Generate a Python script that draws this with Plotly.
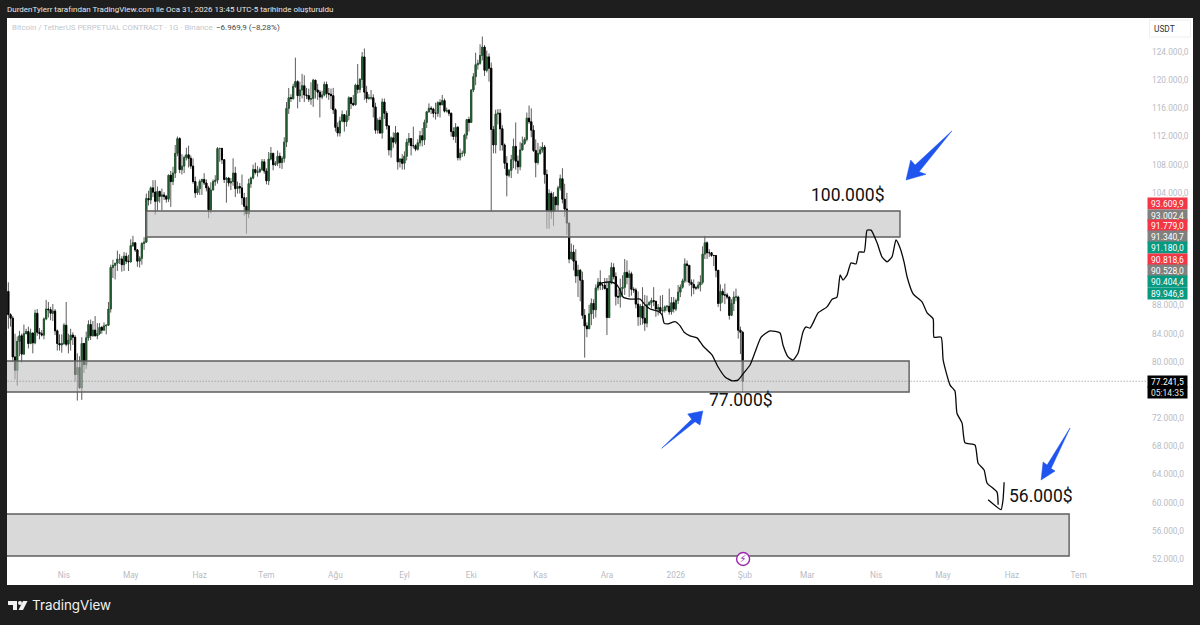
import pandas as pd
import plotly.graph_objects as go

# Daily BTC/USDT perpetual candles (thousands of USDT), 2025-03-07 .. 2026-01-31
first_date = "2025-03-07"
first_open = 90.0
mar_c = [86.7,86.2,80.7,78.8,82.9,83.7,81.1,84.0,84.3,82.6,84.1,82.7,86.9,84.2,84.0,83.8,86.1,87.5,87.4,86.9,87.2,84.4,82.6,82.4,82.6]
mar_h = [91.3,86.9,86.5,84.0,83.6,84.4,84.0,85.3,84.7,85.0,84.7,84.1,87.4,87.5,84.8,84.5,86.3,88.8,88.5,87.8,88.2,87.5,84.6,83.9,83.9]
mar_l = [84.7,85.0,80.0,77.5,76.6,80.8,79.9,81.0,83.9,81.9,82.5,81.2,82.5,83.7,83.2,83.6,83.2,85.9,86.3,85.9,85.8,83.8,81.6,81.6,81.3]
apr_c = [85.2,82.5,83.1,83.8,83.5,78.2,79.2,76.3,82.6,79.6,83.4,85.3,83.7,84.5,83.7,84.0,84.9,84.5,85.1,85.2,87.5,93.4,93.7,94.0,94.6,94.6,93.8,95.0,94.3,94.2]
apr_h = [85.5,88.5,84.0,84.7,84.2,83.8,81.2,80.8,83.5,82.7,84.3,85.9,86.0,85.8,86.5,85.5,85.5,85.1,85.6,85.3,88.5,93.8,94.5,94.0,95.8,95.3,95.0,95.6,95.5,95.2]
apr_l = [82.4,82.2,81.2,81.6,82.4,77.2,74.5,76.2,74.6,78.4,79.0,83.0,83.1,83.6,83.6,83.2,83.8,84.0,84.9,83.9,85.1,87.0,91.9,91.7,92.9,93.9,92.8,92.9,93.9,92.9]
may_c = [96.5,96.9,95.9,94.3,94.7,96.8,97.0,103.2,103.0,104.7,104.1,102.8,104.2,103.5,103.7,103.5,103.1,106.5,105.6,106.8,109.6,111.7,107.3,107.8,109.0,109.4,108.9,107.8,105.6,104.0,104.6]
may_h = [97.4,97.9,96.9,96.0,95.0,97.0,97.7,103.9,104.3,104.9,105.8,105.8,104.9,104.3,104.6,104.1,103.7,106.6,107.1,107.7,110.8,112.0,111.9,109.5,109.3,110.4,110.7,109.3,108.9,106.3,105.0]
may_l = [94.1,96.3,95.6,93.5,93.4,93.8,95.9,96.9,102.2,102.4,103.4,100.9,101.5,102.6,101.5,103.0,102.6,102.7,102.0,105.1,106.1,109.2,106.8,106.6,106.8,108.6,107.6,107.4,105.3,103.3,103.7]
jun_c = [105.6,105.9,105.4,104.7,101.6,104.4,105.6,105.8,110.3,110.3,108.7,105.9,106.1,105.4,105.6,106.8,104.6,104.9,104.7,103.3,102.1,101.0,105.3,106.1,107.3,106.9,107.0,107.3,108.4,107.1]
jun_h = [105.9,106.0,106.8,105.9,105.0,105.5,105.9,106.5,110.5,110.4,110.4,108.8,106.2,106.2,106.1,108.9,107.7,105.6,105.4,106.6,104.0,103.4,106.0,106.3,108.0,108.3,107.8,107.6,108.8,108.8]
jun_l = [103.7,103.7,105.1,104.2,100.4,101.1,104.6,105.0,105.3,108.4,108.1,105.4,102.6,104.9,104.4,105.0,103.4,103.9,103.9,102.3,100.8,98.2,100.4,104.7,105.9,106.6,106.3,106.8,107.1,106.7]
jul_c = [105.7,108.8,109.6,108.0,108.2,109.2,108.3,108.9,111.2,116.0,117.5,117.4,119.1,119.8,117.8,118.6,119.2,117.9,117.8,117.3,117.4,120.0,118.6,118.3,117.6,117.9,119.4,118.1,118.0,117.8,115.8]
jul_h = [107.5,109.8,110.5,109.7,108.5,110.0,109.7,109.2,111.9,116.9,118.9,118.0,119.5,123.2,120.0,119.8,120.9,120.7,118.9,118.8,119.7,120.2,120.0,119.5,118.6,118.5,119.8,119.8,118.9,118.8,118.9]
jul_l = [105.2,105.1,108.6,107.2,107.8,107.8,107.5,107.4,108.3,110.5,115.2,116.9,117.2,118.9,116.0,116.9,117.4,116.9,117.3,116.9,116.5,116.2,117.4,117.2,114.7,117.3,117.7,117.5,117.2,115.9,115.2]
aug_c = [113.3,112.5,114.2,115.1,114.1,115.0,117.5,116.7,116.5,119.3,118.7,120.1,123.3,118.3,117.4,117.5,117.5,116.2,112.9,114.3,112.5,116.9,115.3,113.5,110.1,111.8,111.2,112.5,108.4,108.8,108.2]
aug_h = [116.0,114.0,114.8,115.7,115.1,115.7,117.7,117.6,117.9,119.5,122.3,120.3,124.0,124.5,119.2,118.0,118.6,118.0,116.8,114.6,114.8,117.4,117.4,115.6,113.6,112.0,112.6,113.5,112.6,108.9,109.5]
aug_l = [112.7,112.0,112.0,114.0,112.7,113.4,114.3,115.9,116.3,116.4,118.1,118.2,118.9,117.2,116.8,117.2,117.2,114.7,112.4,112.4,112.4,111.7,114.5,113.0,109.3,109.0,110.4,110.9,107.3,107.6,107.3]
sep_c = [109.2,111.2,111.7,110.7,110.7,110.2,111.1,112.1,111.5,114.0,115.5,116.0,115.9,115.3,115.3,116.8,116.5,117.1,115.6,115.7,115.3,112.7,112.0,113.3,109.0,109.6,109.6,112.2,114.4,114.0]
sep_h = [109.9,111.7,112.5,111.8,113.4,110.9,111.6,112.8,113.2,114.4,115.6,116.7,116.3,116.1,116.8,117.0,117.3,117.9,117.4,116.1,115.9,115.4,113.3,113.9,113.5,110.3,110.0,112.4,114.5,114.8]
sep_l = [107.3,108.6,110.7,109.3,110.3,109.9,110.0,110.6,110.6,110.8,113.2,115.4,115.2,114.7,114.4,114.8,114.7,116.7,115.4,115.4,114.9,112.0,111.5,111.1,108.6,108.6,109.1,109.2,111.6,112.7]
oct_c = [118.6,120.5,122.2,122.4,123.5,124.7,121.4,123.3,121.7,113.0,110.8,115.2,115.3,113.1,110.8,108.2,106.5,107.2,108.7,110.6,108.5,107.7,110.1,111.0,111.6,114.6,114.1,112.9,110.0,108.3,109.6]
oct_h = [118.7,121.0,123.9,122.9,125.1,126.2,125.0,124.2,123.8,122.5,113.5,115.8,115.9,115.9,113.6,111.0,109.2,107.4,109.4,111.7,114.0,109.3,111.2,112.0,111.9,115.4,116.4,116.0,113.6,111.6,111.1]
oct_l = [114.0,118.3,119.3,121.5,122.2,122.8,120.6,121.1,119.8,101.4,109.6,109.6,113.7,110.0,110.0,107.4,103.5,106.2,106.1,107.5,107.3,106.7,107.2,110.0,110.8,111.3,113.8,111.9,109.8,106.2,108.0]
nov_c = [110.1,110.5,106.6,101.5,103.9,101.3,103.4,102.3,104.7,106.0,103.1,101.7,99.7,94.6,95.6,94.3,92.2,93.0,91.6,86.6,85.1,84.7,86.8,88.3,87.4,90.5,91.3,90.9,90.9,90.4]
nov_h = [110.6,111.2,110.8,107.3,104.5,104.2,104.1,103.5,105.0,106.6,107.5,105.3,104.0,99.8,96.8,96.6,96.0,93.8,93.2,92.8,87.5,85.6,88.1,89.0,88.9,91.0,91.9,93.0,91.1,91.9]
nov_l = [109.4,109.7,105.3,98.9,98.9,100.3,99.3,101.4,101.5,104.3,102.5,100.6,98.0,94.0,94.6,93.0,91.2,89.2,88.6,86.1,80.6,83.5,84.7,85.2,86.1,86.3,90.1,90.2,90.2,90.3]
dec_c = [86.3,91.3,93.4,92.1,89.3,89.2,90.4,90.6,92.7,92.0,92.5,90.3,90.2,88.2,86.4,87.9,86.2,85.5,88.1,88.4,88.7,88.6,87.5,87.7,87.2,87.3,87.8,87.9,87.1,88.4,87.5]
dec_h = [91.9,92.3,94.1,94.0,92.7,90.3,91.8,92.3,94.6,94.4,93.0,92.8,90.6,90.5,90.0,88.2,90.6,89.5,89.4,88.6,89.1,90.6,88.0,88.2,89.4,89.5,88.0,88.0,90.4,89.2,89.2]
dec_l = [83.8,86.2,91.0,91.7,88.0,88.2,87.7,89.5,89.5,91.0,89.2,89.4,89.8,87.6,85.1,85.2,85.3,84.4,84.9,88.0,87.6,87.9,86.4,86.6,86.9,86.4,87.0,87.2,86.7,86.7,87.0]
jan_c = [88.7,89.9,90.6,91.5,93.9,93.7,91.3,91.0,90.5,90.5,90.9,91.3,95.3,96.9,95.5,95.5,95.1,95.1,93.0,88.3,90.0,89.5,89.5,89.2,86.6,88.3,89.2,89.2,84.5,84.2,77.2415]
jan_h = [89.0,90.9,91.0,91.8,94.7,94.4,93.5,91.7,91.7,90.8,91.4,92.3,96.4,97.9,97.1,96.0,95.6,95.2,93.5,93.0,91.0,90.4,91.1,89.8,89.3,88.9,90.0,90.4,89.4,85.0,84.4]
jan_l = [87.2,88.2,89.2,90.4,91.2,91.3,90.8,89.3,89.6,90.2,90.3,90.0,91.0,94.6,94.6,94.9,94.9,93.6,92.0,87.8,87.2,88.4,88.2,88.9,86.0,86.5,87.2,88.6,83.3,81.1,75.7]

# Hand-drawn projection: days since 2025-04-01 and price (thousands)
curve_day = [239.6,241.8,245.4,248.1,249.9,251.2,254.4,258.9,261.1,263.4,267.0,268.8,269.7,271.5,274.6,276.9,278.7,281.3,284.5,287.2,291.2,293.9,297.1,300.2,302.9,305.2,308.3,310.6,313.3,317.3,321.8,323.1,325.4,327.6,329.9,332.1,333.5,335.3,338.9,342.9,345.2,347.4,348.8,350.1,351.9,353.7,355.9,357.3,359.6,360.9,362.7,365.4,367.6,369.9,372.1,373.9,375.7,377.5,378.9,381.6,385.6,387.9,390.6,391.0,394.2,395.1,398.2,400.4,401.3,403.6,404.9,409.4,410.8,413.5,414.8,419.3,419.8]
curve_price = [90.63,91.2,91.34,91.05,90.2,89.2,88.9,88.9,88.1,87.5,87.2,86.65,85.5,85.4,85.7,85.1,84.2,83.7,83.4,82.25,81.0,79.3,77.85,77.3,77.4,78.3,79.55,81.4,83.5,84.4,84.1,82.4,80.7,80.25,81.25,84.25,84.95,84.8,86.95,87.8,88.9,89.2,92.35,91.6,92.35,94.05,93.9,95.6,95.6,98.7,98.7,96.9,94.9,94.2,94.9,97.3,96.2,94.2,92.05,89.65,88.5,86.95,86.1,83.5,83.5,80.25,76.7,75.85,72.7,71.3,68.5,68.2,65.6,64.65,62.8,61.5,59.7]
hook_day = [415.3,421.1,422.0,422.5]
hook_price = [60.4,59.0,60.4,62.9]

# Zones: start day, end day, top price, bottom price
zone_start = [36.9,-30,-30]
zone_end = [375.7,379.8,451.7]
zone_top = [101.42,80.12,58.39]
zone_bottom = [97.73,75.72,52.42]

# Blue arrows (days since 2025-04-01, price)
arrow1_day = [399.0,382.5,380.5,378.4,387.4,384.3,399.0]
arrow1_price = [112.78,107.95,108.66,105.82,106.63,107.0,112.78]
arrow2_day = [268.6,282.1,280.3,287.1,285.8,283.6,268.6]
arrow2_price = [67.72,71.84,72.59,73.02,71.03,71.5,67.72]
arrow3_day = [452.1,441.8,440.0,439.1,445.4,443.6,452.1]
arrow3_price = [70.6,65.35,65.78,63.22,64.5,64.85,70.6]

note_text = ["100.000$","77.000$","56.000$"]
note_day = [352.1,304.3,438.9]
note_price = [103.7,74.6,60.95]

last_price = 77.2415
price_ticks = [124,120,116,112,108,104,88,84,80,72,68,64,60,56,52]
price_labels = ["124.000,0","120.000,0","116.000,0","112.000,0","108.000,0","104.000,0","88.000,0","84.000,0","80.000,0","72.000,0","68.000,0","64.000,0","60.000,0","56.000,0","52.000,0"]
month_dates = ["2025-04-01","2025-05-01","2025-06-01","2025-07-01","2025-08-01","2025-09-01","2025-10-01","2025-11-01","2025-12-01","2026-01-01","2026-02-01","2026-03-01","2026-04-01","2026-05-01","2026-06-01","2026-07-01"]
month_labels = ["Nis","May","Haz","Tem","Ağu","Eyl","Eki","Kas","Ara","2026","Şub","Mar","Nis","May","Haz","Tem"]
tag_labels = ["93.609,9","93.002,4","91.779,0","91.340,7","91.180,0","90.818,6","90.528,0","90.404,4","89.946,8"]
tag_colors = ["#f23645","#808080","#f23645","#808080","#089981","#f23645","#808080","#089981","#089981"]
tag_rows = [203,215,226,237,248,259,270,282,293]

closes = mar_c+apr_c+may_c+jun_c+jul_c+aug_c+sep_c+oct_c+nov_c+dec_c+jan_c
highs = mar_h+apr_h+may_h+jun_h+jul_h+aug_h+sep_h+oct_h+nov_h+dec_h+jan_h
lows = mar_l+apr_l+may_l+jun_l+jul_l+aug_l+sep_l+oct_l+nov_l+dec_l+jan_l
opens = [first_open]+closes[:-1]
highs = [max(h,o,c) for h,o,c in zip(highs,opens,closes)]
lows = [min(l,o,c) for l,o,c in zip(lows,opens,closes)]
dates = pd.date_range(first_date, periods=len(closes), freq="D")
base = pd.Timestamp("2025-04-01")
def D(days):
    return [base + pd.Timedelta(days=float(d)) for d in days]

L, R, T, B = 7, 1147, 18, 569
W, H = 1200, 625
def px(x): return (x-L)/(R-L)
def py(y): return (B-y)/(B-T)

FONT = "Roboto, Arial, sans-serif"
GREEN, BLACK, WICK = "#235a30", "#000000", "#5c5c5c"
BLUE = "#1f55ee"

fig = go.Figure()
fig.add_trace(go.Candlestick(x=dates, open=opens, high=highs, low=lows, close=closes,
    increasing=dict(line=dict(color=WICK,width=1),fillcolor=WICK),
    decreasing=dict(line=dict(color=WICK,width=1),fillcolor=WICK),
    whiskerwidth=0, hoverinfo="skip"))
fig.add_trace(go.Candlestick(x=dates, open=opens, close=closes,
    high=[max(o,c) for o,c in zip(opens,closes)], low=[min(o,c) for o,c in zip(opens,closes)],
    increasing=dict(line=dict(color=GREEN,width=1),fillcolor=GREEN),
    decreasing=dict(line=dict(color=BLACK,width=1),fillcolor=BLACK),
    whiskerwidth=0, hoverinfo="skip"))
for s,e,t,b in zip(zone_start,zone_end,zone_top,zone_bottom):
    fig.add_trace(go.Scatter(x=D([s,e,e,s,s]), y=[t,t,b,b,t], mode="lines", fill="toself",
        fillcolor="rgba(192,192,192,0.6)", line=dict(color="#5e5e5e",width=1.4), hoverinfo="skip"))
fig.add_trace(go.Scatter(x=[dates[0]-pd.Timedelta(days=3), D([487])[0]], y=[last_price,last_price], mode="lines",
    line=dict(color="#777777",width=0.8,dash="1px,2px"), hoverinfo="skip"))
fig.add_trace(go.Scatter(x=D(curve_day), y=curve_price, mode="lines",
    line=dict(color="#0a0a0a",width=1.3,shape="spline",smoothing=0.5), hoverinfo="skip"))
fig.add_trace(go.Scatter(x=D(hook_day), y=hook_price, mode="lines",
    line=dict(color="#0a0a0a",width=1.3,shape="spline",smoothing=0.4), hoverinfo="skip"))
for ad,ap in [(arrow1_day,arrow1_price),(arrow2_day,arrow2_price),(arrow3_day,arrow3_price)]:
    fig.add_trace(go.Scatter(x=D(ad), y=ap, mode="lines", fill="toself", fillcolor=BLUE,
        line=dict(color=BLUE,width=0.5), hoverinfo="skip"))
fig.add_trace(go.Scatter(x=D([305.2]), y=[52.0], mode="markers+text", text=["⚡"], textposition="middle center",
    textfont=dict(color="#9c27b0",size=10,family="DejaVu Sans"),
    marker=dict(size=13,color="white",line=dict(color="#9c27b0",width=1.4)), hoverinfo="skip"))

ann = []
for t,d,p in zip(note_text,note_day,note_price):
    ann.append(dict(x=D([d])[0],y=p,text=t,showarrow=False,font=dict(size=17.5,color="#111111",family=FONT),xanchor="center",yanchor="middle"))
for lab,col,row in zip(tag_labels,tag_colors,tag_rows):
    ann.append(dict(xref="paper",yref="paper",x=px(1147),y=py(row),text=lab,showarrow=False,xanchor="left",yanchor="middle",
        width=39,height=11,align="center",bgcolor=col,borderpad=0,font=dict(size=8.5,color="white",family=FONT)))
ann.append(dict(xref="paper",yref="paper",x=px(1147),y=py(381.5),text=f"{last_price*1000:,.1f}".replace(",","#").replace(".",",").replace("#","."),showarrow=False,xanchor="left",yanchor="middle",
    width=39,height=11,align="center",bgcolor="#000000",borderpad=0,font=dict(size=8.5,color="white",family=FONT)))
ann.append(dict(xref="paper",yref="paper",x=px(1147),y=py(392),text="05:14:35",showarrow=False,xanchor="left",yanchor="middle",
    width=39,height=11,align="center",bgcolor="#000000",borderpad=0,font=dict(size=8.5,color="#e8e8e8",family=FONT)))
ann.append(dict(xref="paper",yref="paper",x=px(5),y=py(9),text="DurdenTylerr tarafından TradingView.com ile Oca 31, 2026 13:45 UTC-5 tarihinde oluşturuldu",
    showarrow=False,xanchor="left",yanchor="middle",font=dict(size=8,color="#e6e6e6",family=FONT)))
ann.append(dict(xref="paper",yref="paper",x=px(10),y=py(27.5),text="Bitcoin / TetherUS PERPETUAL CONTRACT · 1G · Binance",
    showarrow=False,xanchor="left",yanchor="middle",font=dict(size=7.9,color="#c3c6cd",family=FONT)))
ann.append(dict(xref="paper",yref="paper",x=px(214),y=py(27.5),text="−6.969,9 (−8,28%)",
    showarrow=False,xanchor="left",yanchor="middle",font=dict(size=8,color="#444444",family=FONT)))
ann.append(dict(xref="paper",yref="paper",x=px(1164),y=py(29),text="USDT",showarrow=False,xanchor="center",yanchor="middle",
    font=dict(size=8.3,color="#333333",family=FONT)))
ann.append(dict(xref="paper",yref="paper",x=px(30),y=py(605),text="TradingView",showarrow=False,xanchor="left",yanchor="middle",
    font=dict(size=13.4,color="#f2f2f2",family="Inter, Roboto, sans-serif")))

shapes = [
    dict(type="rect",xref="paper",yref="paper",layer="below",x0=px(7),x1=px(1193),y0=py(18),y1=py(585),fillcolor="white",line=dict(width=0)),
    dict(type="rect",xref="paper",yref="paper",layer="above",x0=px(1149.5),x1=px(1190.5),y0=py(20),y1=py(37),fillcolor="rgba(0,0,0,0)",line=dict(color="#eeeeee",width=1)),
    dict(type="rect",xref="paper",yref="paper",layer="above",x0=px(8),x1=px(17),y0=py(601),y1=py(605),fillcolor="#f2f2f2",line=dict(width=0)),
    dict(type="rect",xref="paper",yref="paper",layer="above",x0=px(13),x1=px(17),y0=py(601),y1=py(610),fillcolor="#f2f2f2",line=dict(width=0)),
    dict(type="circle",xref="paper",yref="paper",layer="above",x0=px(18),x1=px(22),y0=py(601),y1=py(605),fillcolor="#f2f2f2",line=dict(width=0)),
    dict(type="path",xref="paper",yref="paper",layer="above",
         path=f"M {px(23)} {py(601)} L {px(27.5)} {py(601)} L {px(23)} {py(610)} L {px(18.5)} {py(610)} Z",fillcolor="#f2f2f2",line=dict(width=0)),
]

day_left, day_right = -25.6, 486.7
fig.update_layout(
    width=W, height=H, autosize=False, margin=dict(l=L,r=W-R,t=T,b=H-B),
    paper_bgcolor="#1e1e1e", plot_bgcolor="rgba(0,0,0,0)", showlegend=False, boxgap=0.3,
    annotations=ann, shapes=shapes, font=dict(family=FONT),
    xaxis=dict(range=D([day_left,day_right]), type="date", rangeslider=dict(visible=False), showgrid=False, zeroline=False, showline=False,
        tickmode="array", tickvals=month_dates, ticktext=month_labels, ticks="", tickangle=0, tickfont=dict(size=8.3,color="#b8bbc4",family=FONT)),
    yaxis=dict(range=[124-(B-52)*0.14201, 124+(52-T)*0.14201], side="right", showgrid=False, zeroline=False, showline=False,
        tickmode="array", tickvals=price_ticks, ticktext=price_labels, ticks="", ticklabelstandoff=4, tickfont=dict(size=8.3,color="#b8bbc4",family=FONT)),
)
fig.write_html("out.html", config={"displayModeBar": False},
    post_script="document.body.style.margin='0';document.documentElement.style.overflow='hidden';document.documentElement.style.background='#1e1e1e';")
